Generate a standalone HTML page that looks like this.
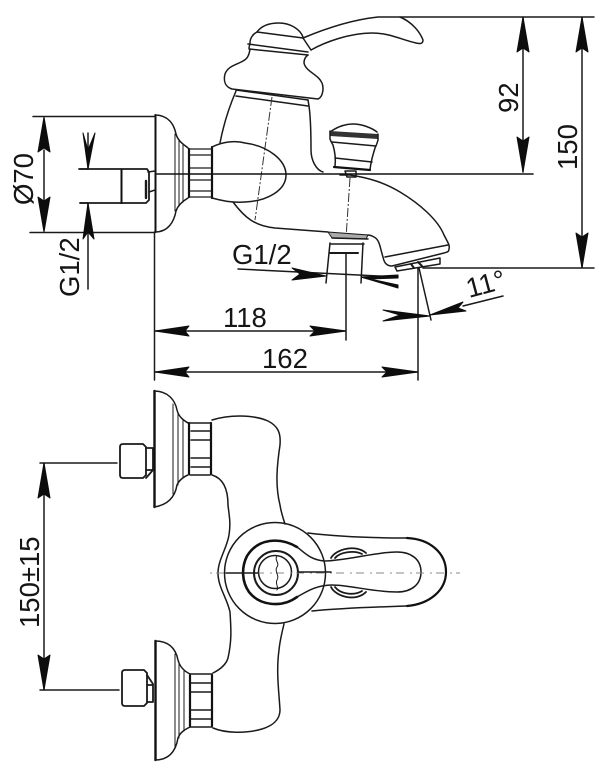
<!DOCTYPE html>
<html><head><meta charset="utf-8"><style>
html,body{margin:0;padding:0;background:#fff}
svg{display:block;filter:blur(.35px)}
text{font-family:"Liberation Sans",sans-serif;font-size:27.500px;fill:#151515}
.l{fill:none;stroke:#1a1a1a;stroke-width:1.5;stroke-linejoin:round;stroke-linecap:round}
.t{fill:none;stroke:#111;stroke-width:2.6;stroke-linecap:round}
.n{fill:none;stroke:#333;stroke-width:1;stroke-dasharray:9 2 2 2}
.a{fill:#0d0d0d;stroke:#0d0d0d;stroke-width:1;stroke-linejoin:round}
</style></head><body>
<svg width="614" height="772" viewBox="0 0 614 772" xmlns="http://www.w3.org/2000/svg">
<rect width="614" height="772" fill="#fff"/>

<!-- SIDE VIEW: wall flange -->
<path class="t" style="stroke-width:2" d="M155.500 115V232"/>
<path class="l" d="M155 115C168 115 174 124 176 134C178 141 183 144 188 148M155 232C168 232 174 222 176 211C178 205 183 201 188 198"/>
<path class="l" style="stroke-width:1" d="M175 134V211M179 141V205M183 145V202"/>
<!-- nut -->
<path class="t" style="stroke-width:2.200" d="M189 149V197M212 147V198"/>
<path class="l" style="stroke-width:1.200" d="M189 149H212M189 197H212M190 155H211M190 168H211M190 180H211M190 191H211"/>
<!-- pipe -->
<path class="l" style="stroke-width:1.800" d="M79 169H147L149 172V200L146 203H80"/>
<path class="t" style="stroke-width:2" d="M121.500 170V203"/>
<path class="l" d="M148 172L155 171M149 192L155 190"/>
<path class="l" style="stroke-width:2.400" d="M146 181V198"/>

<!-- body -->
<path class="l" d="M257 32C262 25 270 23 279 23C290 23 300 29 303 37"/>
<path class="l" d="M257 32L303 38C322 30 350 20 378 17H400C412 22 420 32 423 40C423 44 420 44 416 43C402 40 390 33 372 33C350 33 325 42 311 50"/>
<path class="l" d="M257 32C253 34 250 38 250 43L249 48M248 44L308 52M249 49L308 55M303 38L311 50"/>
<path class="l" d="M250 49C249 56 247 59 243 61C236 65 228 66 225 74C223 82 226 87 232 89L318 99C323 97 324 88 322 83C318 74 306 72 304 63C304 60 305 57 308 55"/>
<path class="l" d="M236 90L308 100M236 96L308 106"/>
<path class="l" d="M236 91C230 105 224 122 220 143M308 100L309 106C311 120 311 138 311 150C311 160 316 170 323 172"/>
<path class="n" d="M272 97L255 220"/>
<path class="n" d="M350 178L346 238"/>
<path class="l" d="M212 147C222 142 235 140 245 143C268 146 286 160 286 175C286 190 268 201 245 202C230 203 220 200 212 198"/>
<path class="l" d="M233 202C245 218 255 226 275 228L328 232"/>
<path class="l" d="M340 175H350C370 178 385 183 400 192C420 204 438 220 444 235C448 243 450 245 449 249C449 252 447 252 444 253L392 266C386 266 384 262 383 257C380 248 380 240 374 237C372 236 371 235 368 235"/>
<path class="l" d="M385 257L448 245"/>
<path d="M328 232L368 235L366 239L332 238Z" fill="#aaa" stroke="#1a1a1a" stroke-width="1"/>
<path class="l" d="M332 238L368 239M330 244L364 244M330 243L326 283M363 243L361 283"/>
<path class="l" style="stroke-width:2" d="M330 253L358 253"/>
<path class="l" d="M395 267L440 258L440 264L397 271Z"/>
<path class="l" style="stroke-width:2" d="M411 264L414 268M418 262L422 266"/>

<!-- knob -->
<path class="l" d="M330 132C337 127 345 124 353 124C362 124 372 128 377 132"/>
<path d="M330 131L378 134V139L330 136Z" fill="#333"/>
<path class="l" d="M330 131V139C331 142 332 143 333 145C335 152 336 158 335 166M378 134V140C377 144 376 146 375 148C373 155 371 160 370 170"/>
<path class="l" d="M332 142L376 146M335 158L372 162"/>
<path class="t" style="stroke-width:2.200" d="M334 167L370 170"/>
<path class="l" d="M345 171H356V177H347Z"/>

<!-- centre line -->
<path class="t" style="stroke-width:1.600" d="M157 174H533"/>

<!-- dims side -->
<path class="l" d="M33 116.500H155M30 232.500H155M44 150V200M80 169H88M80 203H88M88 133V169M88 203V289"/>
<path class="a" d="M44 117L50 152L44 148L38 152Z"/>
<path class="a" d="M44 232L50 197L44 201L38 197Z"/>
<path class="a" d="M88 169L83 133L88 150L95 133Z"/>
<path class="a" d="M88 203L83 239L88 232L94 239Z"/>

<path class="l" d="M400 17H594M423 268H594M523 17V172M582 17V268"/>
<path class="a" d="M523 17L529 52L523 48L517 52Z"/>
<path class="a" d="M523 172L529 137L523 141L517 137Z"/>
<path class="a" d="M582 17L588 52L582 48L576 52Z"/>
<path class="a" d="M582 268L588 233L582 237L576 233Z"/>

<path class="l" d="M154.500 232V380M346 253V340M418 268V380M155 331H346M155 372H418"/>
<path class="a" d="M155 331L189 326L185 331L189 336Z"/>
<path class="a" d="M346 331L310 326L315 331L310 336Z"/>
<path class="a" d="M155 372L189 367L185 372L189 377Z"/>
<path class="a" d="M418 372L382 367L387 372L382 377Z"/>

<!-- G1/2 at spout -->
<path class="l" d="M238 269L398 277"/>
<path class="a" d="M326 276L292 268L300 274L292 280Z"/>
<path class="a" d="M361 277L398 275L398 278L368 279Z"/>
<path class="a" d="M361 277L398 285L398 288Z"/>

<!-- 11 degree -->
<path class="l" d="M419 268L431 320"/>
<path class="l" d="M463 306L503 296"/>
<path class="a" d="M430 316L383 310L400 315L383 321Z"/>
<path class="a" d="M430 315L463 302L458 308L466 311Z"/>

<!-- FRONT VIEW top fitting -->
<path class="t" style="stroke-width:2.400" d="M154.500 391V507"/>
<path class="l" d="M154 391C168 391 175 400 177 410C179 418 185 421 188 423M154 507C168 505 175 497 177 485C179 480 185 476 188 475"/>
<path class="l" style="stroke-width:1" d="M173 404V494M178 413V485M183 420V478"/>
<path class="t" style="stroke-width:2.200" d="M189 423V474M211 423V474"/>
<path class="l" d="M190 423H210Q211 423 211 425M190 475H210M191 431H210M191 440H210M191 458H210M191 467H210"/>
<path class="l" style="stroke-width:1.800" d="M120 447Q120 444 123 444H143L146 447V475L143 478H123Q120 478 120 475Z"/>
<path class="l" style="stroke-width:1.800" d="M146 448H153V470H146M146 478L153 470"/>

<!-- FRONT VIEW bottom fitting -->
<path class="t" style="stroke-width:2.400" d="M155.500 641V760"/>
<path class="l" d="M155 641C170 641 176 650 178 660C180 668 186 672 190 674M155 760C170 760 176 750 178 738C180 732 186 729 190 727"/>
<path class="l" style="stroke-width:1" d="M175 654V748M179 662V738M184 670V731"/>
<path class="t" style="stroke-width:2.200" d="M190 675V726M212 675V726"/>
<path class="l" d="M190 674H212M190 727H212M191 683H211M191 692H211M191 710H211M191 719H211"/>
<path class="l" style="stroke-width:1.800" d="M122 673Q122 670 125 670H144L147 673V703L144 706H125Q122 706 122 703Z"/>
<path class="l" style="stroke-width:1.800" d="M147 675L153 684V702H147M147 685H153"/>

<!-- FRONT body -->
<path class="l" d="M212 420C228 415 252 414 268 421C278 426 281 433 280 445C277 465 275 485 280 505C281 512 283 518 285 524"/>
<path class="l" d="M212 475C222 478 228 487 228 505C229 515 231 522 229 535C227 548 218 560 218 573C218 587 227 598 230 612C231 628 232 640 228 658C226 665 219 670 213 673"/>
<path class="l" d="M213 728C225 733 245 734 262 729C272 726 280 720 280 710C279 692 276 672 279 650C280 640 282 632 284 624"/>

<!-- FRONT centre -->
<circle class="l" cx="275" cy="573" r="50.500"/>
<circle class="l" style="stroke-width:2" cx="276" cy="573" r="22"/>
<circle class="l" cx="275" cy="572" r="16.500"/>
<path class="t" d="M297 547C280 537 258 538 247 556C241 568 242 582 249 592C260 606 282 608 297 597"/>
<path class="l" d="M297 547C304 552 310 560 325 561C350 560 375 552 397 552C412 552 421 560 421 572C421 584 412 592 397 592C372 592 350 585 332 585C316 585 306 592 297 597"/>
<path class="l" d="M308 533C340 537 375 538 407 538"/>
<path class="t" style="stroke-width:2.200" d="M407 538C430 539 446 553 446 572C446 590 430 604 407 606"/>
<path class="l" d="M407 606C375 607 342 608 312 611"/>
<path class="l" style="stroke-width:1.800" d="M331 558C336 549 356 544 366 553M335 558C340 552 354 550 362 554"/>
<path class="l" style="stroke-width:1.800" d="M331 587C336 597 356 602 366 592M335 587C340 594 354 596 362 591"/>
<path class="n" style="stroke-dasharray:2 4 8 6;stroke:#888" d="M210 573H460"/>
<path class="l" d="M226 573H258M298 572H331"/>
<path class="l" style="stroke-width:1" d="M277 556C274 560 280 563 277 567C274 571 280 576 277 580C275 584 279 587 277 590"/>

<!-- 150+-15 dim -->
<path class="l" d="M40 463H117M40 690H119M44 463V690"/>
<path class="a" d="M44 463L50 498L44 494L38 498Z"/>
<path class="a" d="M44 690L50 655L44 659L38 655Z"/>

<!-- Text -->
<text x="232" y="264">G1/2</text>
<text x="223" y="327">118</text>
<text x="262" y="368">162</text>
<text transform="translate(469 298) rotate(-15)">11°</text>
<text transform="translate(518 113) rotate(-90)">92</text>
<text transform="translate(577 170) rotate(-90)">150</text>
<text transform="translate(33 205) rotate(-90)">Ø70</text>
<text transform="translate(79 297) rotate(-90)">G1/2</text>
<text transform="translate(39 628) rotate(-90)">150±15</text>
</svg>
</body></html>
